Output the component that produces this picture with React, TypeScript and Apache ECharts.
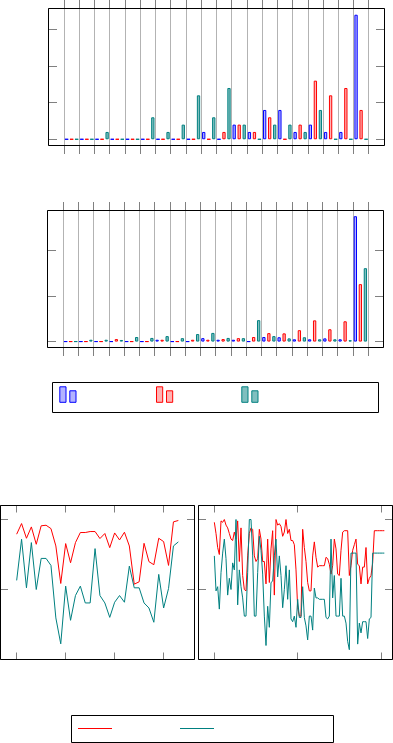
import React, { useEffect, useRef } from 'react';
import * as echarts from 'echarts';

// ---------- data ----------
const BINS = ['1','2','3','4','5','6','7','8','9','10','11','12','13','14','15','16','17','18','19','20'];

// upper histogram (counts)
const HIST_A_BLUE = [0,0,0,0,0,0,0,0,0,1,0,2,1,4,4,1,2,1,1,17];
const HIST_A_RED  = [0,0,0,0,0,0,0,0,0,0,1,2,1,3,0,2,8,6,7,4];
const HIST_A_TEAL = [0,0,1,0,0,3,1,2,6,3,7,2,0,2,2,1,4,0,0,0];

// lower histogram
const HIST_B_BLUE = [0,0,0,0,0,0,0.4,0,0,0.75,0.4,0.4,0,1.0,0.95,0.5,0.5,0.7,0.5,27.5];
const HIST_B_RED  = [0,0,0,0.55,0,0,0.4,0,0.4,0.4,0.55,0.75,1.0,1.85,1.8,2.5,4.65,2.7,4.45,12.6];
const HIST_B_TEAL = [0,0.4,0.4,0.35,1.0,0.8,1.2,0.75,1.65,1.9,0.8,0.75,4.7,1.2,0.7,0.95,0.5,0.5,0.3,16.1];

// left line panel (34 points)
const LEFT_RED = [0.895,0.971,0.866,0.947,0.823,0.955,0.959,0.935,0.811,0.543,0.828,0.691,0.835,0.907,0.907,0.914,0.914,0.864,0.900,0.799,0.904,0.854,0.909,0.811,0.538,0.555,0.830,0.699,0.677,0.866,0.842,0.672,0.983,0.993];
const LEFT_TEAL = [0.565,0.859,0.512,0.835,0.500,0.722,0.722,0.672,0.297,0.112,0.524,0.280,0.457,0.524,0.404,0.404,0.792,0.457,0.404,0.301,0.409,0.457,0.409,0.667,0.512,0.512,0.404,0.368,0.266,0.608,0.368,0.507,0.811,0.840];

// right line panel (103 points)
const RIGHT_RED = [0.98,0.90,0.80,0.75,0.99,0.98,1.00,0.96,0.94,0.90,
  0.86,0.85,0.91,0.86,0.99,0.70,0.94,0.60,0.50,0.49,
  0.74,0.90,0.94,0.93,0.74,0.70,0.72,0.93,0.86,0.70,
  0.70,0.54,0.86,0.55,0.79,0.92,0.46,1.00,0.96,0.97,
  0.95,0.88,0.91,1.00,0.90,0.93,0.85,0.85,0.82,0.64,
  0.37,0.31,0.31,0.93,0.80,0.70,0.55,0.49,0.49,0.74,
  0.84,0.73,0.66,0.67,0.67,0.67,0.67,0.73,0.72,0.68,
  0.61,0.67,0.86,0.79,0.61,0.60,0.78,0.91,0.92,0.92,
  0.92,0.60,0.67,0.78,0.82,0.86,0.68,0.67,0.54,0.66,
  0.66,0.80,0.54,0.58,0.60,0.69,0.92,0.92,0.92,0.92,
  0.92,0.92,0.92];
const RIGHT_TEAL = [0.74,0.49,0.52,0.36,0.62,0.76,0.86,0.72,0.46,0.58,
  0.50,0.69,0.64,1.00,0.39,0.64,0.52,0.44,0.31,0.31,
  0.62,1.00,1.00,0.74,0.31,0.31,0.62,0.88,0.78,0.61,
  0.31,0.10,0.38,0.23,0.55,0.56,0.74,0.86,0.59,0.74,
  0.60,0.37,0.50,0.67,0.43,0.64,0.29,0.27,0.31,0.23,
  0.43,0.30,0.30,0.52,0.30,0.24,0.14,0.31,0.31,0.21,
  0.51,0.44,0.44,0.43,0.43,0.43,0.43,0.30,0.29,0.31,
  0.86,0.44,0.60,0.31,0.31,0.31,0.58,0.31,0.31,0.26,
  0.13,0.07,0.76,0.76,0.76,0.76,0.11,0.26,0.19,0.27,
  0.27,0.27,0.15,0.29,0.30,0.76,0.76,0.76,0.76,0.76,
  0.76,0.76,0.76];

// ---------- styles ----------
const BLUE = '#0000ff', BLUE_FILL = '#b3b3ff';
const RED = '#ff0000', RED_FILL = '#ffb3b3';
const TEAL = '#008080', TEAL_FILL = '#80bfbf';
const TICK = '#808080', GRIDC = '#b3b3b3';

const hiddenX = (gridIndex: number) => ({ type: 'value', gridIndex, show: false, min: 0, max: 1 });

const valTicks = (gridIndex: number, position: string, min: number, max: number, step: number, len: number) => ({
  type: 'value', gridIndex, position, min, max, minInterval: step, maxInterval: step,
  axisLine: { show: false, onZero: false }, axisLabel: { show: false }, splitLine: { show: false },
  axisTick: { show: true, inside: true, length: len, lineStyle: { color: TICK, width: 1 } },
});

const catAxis = (gridIndex: number, position: string, split: boolean) => ({
  type: 'category', gridIndex, position, data: BINS, boundaryGap: true,
  axisLine: { show: false, onZero: false }, axisLabel: { show: false, interval: 0 },
  axisTick: { show: true, inside: false, length: 8.5, interval: 0, lineStyle: { color: TICK, width: 1 } },
  splitLine: { show: split, interval: 0, lineStyle: { color: GRIDC, width: 1 } },
});

const barSeries = (xi: number, yi: number, data: number[], fill: string, border: string) => ({
  type: 'bar', xAxisIndex: xi, yAxisIndex: yi, data, barWidth: 3.3, barGap: '52%', silent: true,
  itemStyle: { color: fill, borderColor: border, borderWidth: 1 },
});

const lineSeries = (xi: number, yi: number, data: number[], color: string) => ({
  type: 'line', xAxisIndex: xi, yAxisIndex: yi, data: data.map((v, i) => [i, v]),
  symbol: 'none', silent: true, lineStyle: { color, width: 1 }, itemStyle: { color },
});

const frame = (x: number, y: number, w: number, h: number) => ({
  type: 'rect', z: 100, shape: { x, y, width: w, height: h },
  style: { fill: 'none', stroke: '#000', lineWidth: 1 }, silent: true,
});

const legendBars = (x0: number, stroke: string, fill: string) => ([
  { type: 'rect', z: 100, shape: { x: x0, y: 386.8, width: 6.2, height: 15.5 }, style: { fill, stroke, lineWidth: 1 } },
  { type: 'rect', z: 100, shape: { x: x0 + 10, y: 390.8, width: 6.2, height: 11.5 }, style: { fill, stroke, lineWidth: 1 } },
]);

export default function App() {
  const ref = useRef<HTMLDivElement>(null);
  useEffect(() => {
    if (!ref.current) return;
    const chart = echarts.init(ref.current, undefined, { renderer: 'svg' });
    const A_MIN = -0.85, A_MAX = 17.85;
    const B_MIN = -1.3, B_MAX = 28.75;
    const option: any = {
      animation: false,
      grid: [
        { left: 48.5, top: 8.5, width: 336, height: 137 },   // 0 frame A
        { left: 64, top: 8.5, width: 304.7, height: 137 },   // 1 bars A
        { left: 47.5, top: 210.5, width: 336, height: 137 }, // 2 frame B
        { left: 63, top: 210.5, width: 305, height: 137 },   // 3 bars B
        { left: 0.5, top: 505.5, width: 194, height: 154 },  // 4 left lines
        { left: 198.5, top: 505.5, width: 194, height: 154 },// 5 right lines
      ],
      xAxis: [
        hiddenX(0),
        catAxis(1, 'bottom', true),
        catAxis(1, 'top', false),
        hiddenX(2),
        catAxis(3, 'bottom', true),
        catAxis(3, 'top', false),
        valTicks(4, 'bottom', -3.3, 36.3, 10, 7),
        valTicks(4, 'top', -3.3, 36.3, 10, 7),
        valTicks(5, 'bottom', -9.5, 106.9, 50, 7),
        valTicks(5, 'top', -9.5, 106.9, 50, 7),
      ],
      yAxis: [
        valTicks(0, 'left', A_MIN, A_MAX, 5, 8.5),
        valTicks(0, 'right', A_MIN, A_MAX, 5, 8.5),
        { type: 'value', gridIndex: 1, show: false, min: A_MIN, max: A_MAX },
        valTicks(2, 'left', B_MIN, B_MAX, 10, 8.5),
        valTicks(2, 'right', B_MIN, B_MAX, 10, 8.5),
        { type: 'value', gridIndex: 3, show: false, min: B_MIN, max: B_MAX },
        valTicks(4, 'left', 0, 1.1, 0.5, 7.5),
        valTicks(4, 'right', 0, 1.1, 0.5, 7.5),
        valTicks(5, 'left', 0, 1.1, 0.5, 7.5),
        valTicks(5, 'right', 0, 1.1, 0.5, 7.5),
      ],
      series: [
        barSeries(1, 2, HIST_A_BLUE, BLUE_FILL, BLUE),
        barSeries(1, 2, HIST_A_RED, RED_FILL, RED),
        barSeries(1, 2, HIST_A_TEAL, TEAL_FILL, TEAL),
        barSeries(4, 5, HIST_B_BLUE, BLUE_FILL, BLUE),
        barSeries(4, 5, HIST_B_RED, RED_FILL, RED),
        barSeries(4, 5, HIST_B_TEAL, TEAL_FILL, TEAL),
        lineSeries(6, 6, LEFT_RED, RED),
        lineSeries(6, 6, LEFT_TEAL, TEAL),
        lineSeries(8, 8, RIGHT_RED, RED),
        lineSeries(8, 8, RIGHT_TEAL, TEAL),
      ],
      graphic: [
        frame(48.5, 8.5, 336, 137),
        frame(47.5, 210.5, 336, 137),
        frame(0.5, 505.5, 194, 154),
        frame(198.5, 505.5, 194, 154),
        frame(52.5, 382.5, 326, 30),
        ...legendBars(59.8, BLUE, BLUE_FILL),
        ...legendBars(156.5, RED, RED_FILL),
        ...legendBars(241.8, TEAL, TEAL_FILL),
        frame(71.5, 715.5, 262, 27),
        { type: 'line', z: 100, shape: { x1: 78, y1: 728.5, x2: 112, y2: 728.5 }, style: { stroke: RED, lineWidth: 1 } },
        { type: 'line', z: 100, shape: { x1: 180, y1: 728.5, x2: 214, y2: 728.5 }, style: { stroke: TEAL, lineWidth: 1 } },
      ],
    };
    chart.setOption(option);
    return () => chart.dispose();
  }, []);
  return <div ref={ref} style={{ position: 'absolute', left: 0, top: 0, width: 393, height: 743, background: '#fff' }} />;
}
